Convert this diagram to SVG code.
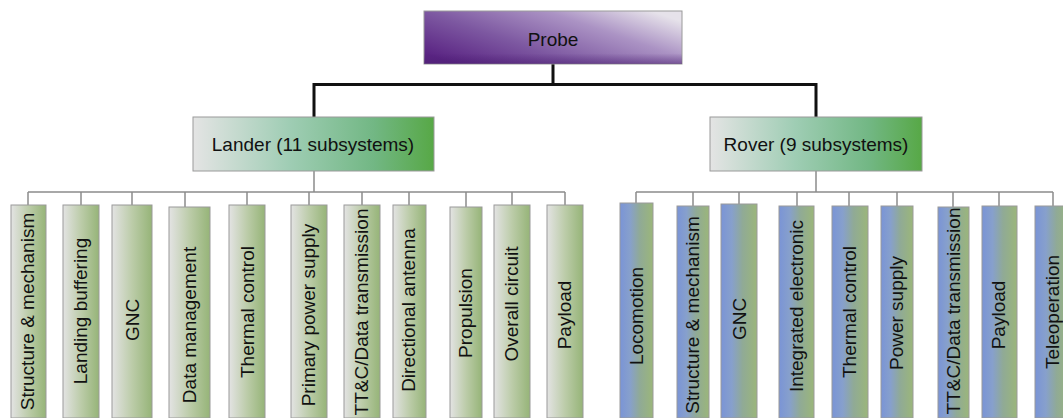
<svg xmlns="http://www.w3.org/2000/svg" width="1063" height="418" viewBox="0 0 1063 418">
<style>
text{font-family:"Liberation Sans",Arial,sans-serif;font-size:19px;fill:#111;text-anchor:middle}
.bx{stroke:#9a9a9a;stroke-width:1}
.lc{fill:url(#gLanderCol)}
.rc{fill:url(#gRoverCol)}
.thick{stroke:#111;stroke-width:3;fill:none}
.thin{stroke:#8c8c8c;stroke-width:1.5;fill:none}
</style>
<defs>
<linearGradient id="gProbe" x1="0" y1="0.8" x2="1" y2="0.2">
<stop offset="0" stop-color="#5a2483"/>
<stop offset="0.35" stop-color="#7d58a1"/>
<stop offset="0.7" stop-color="#ab93c4"/>
<stop offset="1" stop-color="#e6e2ea"/>
</linearGradient>
<linearGradient id="gProbeShade" x1="0" y1="0" x2="0" y2="1">
<stop offset="0" stop-color="#4a1e70" stop-opacity="0"/>
<stop offset="0.8" stop-color="#4a1e70" stop-opacity="0"/>
<stop offset="1" stop-color="#4a1e70" stop-opacity="0.5"/>
</linearGradient>
<linearGradient id="gSub" x1="0" y1="0" x2="1" y2="0">
<stop offset="0" stop-color="#e4e4e4"/>
<stop offset="0.4" stop-color="#9fcdb4"/>
<stop offset="0.75" stop-color="#72b784"/>
<stop offset="1" stop-color="#57a846"/>
</linearGradient>
<linearGradient id="gLanderCol" x1="0" y1="0" x2="1" y2="0">
<stop offset="0" stop-color="#e3e3e3"/>
<stop offset="0.5" stop-color="#bccca9"/>
<stop offset="1" stop-color="#96b478"/>
</linearGradient>
<linearGradient id="gRoverCol" x1="0" y1="0" x2="1" y2="0">
<stop offset="0" stop-color="#7a94d6"/>
<stop offset="0.3" stop-color="#87a0cc"/>
<stop offset="0.6" stop-color="#90aa96"/>
<stop offset="1" stop-color="#9bb67a"/>
</linearGradient>
</defs>

<g id="connectors">
<path class="thick" d="M553 64 V84.5 M314 117 V84.5 H816 V117"/>
<path class="thin" d="M314 171 V192 M28 192 H565 M28 192 V205 M81 192 V205 M132 192 V205 M185 192 V207 M247 192 V205 M309 192 V205 M362 192 V205 M409 192 V205 M466 192 V207 M512 192 V205 M565 192 V205"/>
<path class="thin" d="M816 171 V192 M636 192 H1053 M636 192 V203 M693 192 V206 M739 192 V204 M797 192 V206 M849 192 V206 M897 192 V206 M953 192 V207 M999 192 V206 M1053 192 V206"/>
</g>

<g id="probe">
<rect x="424" y="11" width="258" height="53" fill="url(#gProbe)" class="bx"/>
<rect x="424" y="11" width="258" height="53" fill="url(#gProbeShade)"/>
<text x="553" y="46">Probe</text>
</g>
<g id="lander">
<rect x="193" y="117" width="241" height="54" fill="url(#gSub)" class="bx"/>
<text x="313" y="151">Lander (11 subsystems)</text>
</g>
<g id="rover">
<rect x="710" y="117" width="212" height="54" fill="url(#gSub)" class="bx"/>
<text x="816" y="151">Rover (9 subsystems)</text>
</g>

<g id="l1"><rect class="bx lc" x="11" y="205" width="35" height="213"/><text transform="translate(34 311.5) rotate(-90)">Structure &amp; mechanism</text></g>
<g id="l2"><rect class="bx lc" x="63" y="205" width="36" height="213"/><text transform="translate(87 311) rotate(-90)">Landing buffering</text></g>
<g id="l3"><rect class="bx lc" x="112" y="205" width="40" height="213"/><text transform="translate(139 320) rotate(-90)">GNC</text></g>
<g id="l4"><rect class="bx lc" x="169" y="207" width="41" height="211"/><text transform="translate(196 325) rotate(-90)">Data management</text></g>
<g id="l5"><rect class="bx lc" x="229" y="205" width="36" height="213"/><text transform="translate(254 312) rotate(-90)">Thermal control</text></g>
<g id="l6"><rect class="bx lc" x="291" y="205" width="36" height="213"/><text transform="translate(315 315) rotate(-90)">Primary power supply</text></g>
<g id="l7"><rect class="bx lc" x="344" y="205" width="36" height="213"/><text transform="translate(368 312) rotate(-90)">TT&amp;C/Data transmission</text></g>
<g id="l8"><rect class="bx lc" x="393" y="205" width="33" height="213"/><text transform="translate(415 310) rotate(-90)">Directional antenna</text></g>
<g id="l9"><rect class="bx lc" x="450" y="207" width="32" height="211"/><text transform="translate(472 313) rotate(-90)">Propulsion</text></g>
<g id="l10"><rect class="bx lc" x="494" y="205" width="36" height="213"/><text transform="translate(518 304) rotate(-90)">Overall circuit</text></g>
<g id="l11"><rect class="bx lc" x="547" y="205" width="36" height="213"/><text transform="translate(571 315) rotate(-90)">Payload</text></g>

<g id="r1"><rect class="bx rc" x="620" y="203" width="33" height="215"/><text transform="translate(643 316) rotate(-90)">Locomotion</text></g>
<g id="r2"><rect class="bx rc" x="677" y="206" width="32" height="212"/><text transform="translate(699 315) rotate(-90)">Structure &amp; mechanism</text></g>
<g id="r3"><rect class="bx rc" x="721" y="204" width="36" height="214"/><text transform="translate(746 319) rotate(-90)">GNC</text></g>
<g id="r4"><rect class="bx rc" x="779" y="206" width="35" height="212"/><text transform="translate(803 306) rotate(-90)">Integrated electronic</text></g>
<g id="r5"><rect class="bx rc" x="832" y="206" width="36" height="212"/><text transform="translate(856 312) rotate(-90)">Thermal control</text></g>
<g id="r6"><rect class="bx rc" x="881" y="206" width="32" height="212"/><text transform="translate(903 313) rotate(-90)">Power supply</text></g>
<g id="r7"><rect class="bx rc" x="938" y="207" width="31" height="211"/><text transform="translate(960 311) rotate(-90)">TT&amp;C/Data transmission</text></g>
<g id="r8"><rect class="bx rc" x="982" y="206" width="35" height="212"/><text transform="translate(1005 315) rotate(-90)">Payload</text></g>
<g id="r9"><rect class="bx rc" x="1035" y="206" width="36" height="212"/><text transform="translate(1059 312) rotate(-90)">Teleoperation</text></g>
</svg>
